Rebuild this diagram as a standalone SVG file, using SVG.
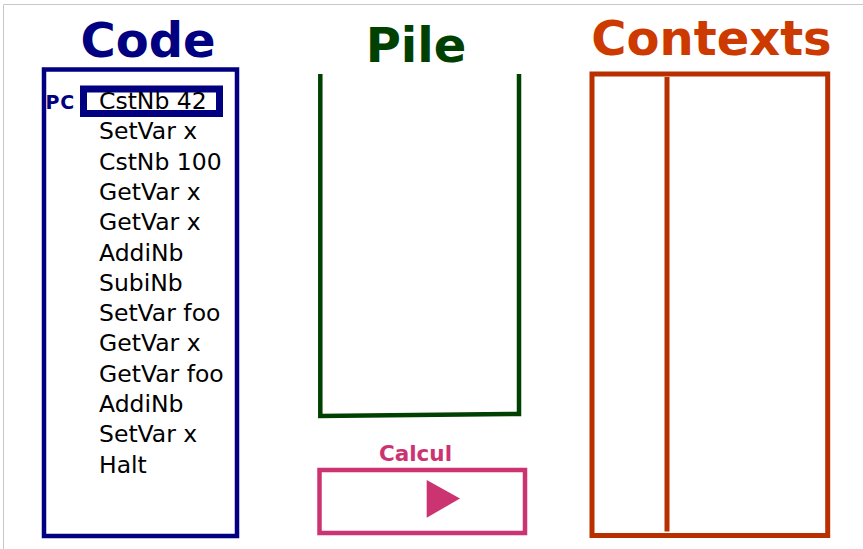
<svg xmlns="http://www.w3.org/2000/svg" width="863" height="549" viewBox="0 0 863 549">
  <style>
    .title { font-family: "DejaVu Sans", sans-serif; font-weight: bold; font-size: 48px; text-anchor: middle; }
    .instr { font-family: "DejaVu Sans", sans-serif; font-size: 23.5px; fill: #000000; }
    .frame { fill: none; }
  </style>
  <rect width="863" height="549" fill="#ffffff"/>
  <!-- page edge -->
  <path d="M3.5,549 V4.5 H863" fill="none" stroke="#c8c8c8" stroke-width="1"/>

  <g id="code">
    <text class="title" x="148" y="57" fill="#000080">Code</text>
    <rect class="frame" x="44" y="69.5" width="193" height="466.5" stroke="#000080" stroke-width="4.5"/>
    <g id="pc">
      <rect class="frame" x="83.5" y="89" width="136" height="24.5" stroke="#000080" stroke-width="7"/>
      <text x="45.5" y="109" font-family="DejaVu Sans, sans-serif" font-weight="bold" font-size="19" letter-spacing="0.8" fill="#000080">PC</text>
    </g>
    <g id="instructions">
      <text class="instr" x="99" y="109">CstNb 42</text>
      <text class="instr" x="99" y="139.3">SetVar x</text>
      <text class="instr" x="99" y="169.6">CstNb 100</text>
      <text class="instr" x="99" y="199.9">GetVar x</text>
      <text class="instr" x="99" y="230.2">GetVar x</text>
      <text class="instr" x="99" y="260.5">AddiNb</text>
      <text class="instr" x="99" y="290.8">SubiNb</text>
      <text class="instr" x="99" y="321.1">SetVar foo</text>
      <text class="instr" x="99" y="351.4">GetVar x</text>
      <text class="instr" x="99" y="381.7">GetVar foo</text>
      <text class="instr" x="99" y="412">AddiNb</text>
      <text class="instr" x="99" y="442.3">SetVar x</text>
      <text class="instr" x="99" y="472.6">Halt</text>
    </g>
  </g>

  <g id="pile">
    <text class="title" x="416" y="61.5" fill="#004000">Pile</text>
    <path d="M320.3,74 V416 L519,414 V74" fill="none" stroke="#004000" stroke-width="4.5"/>
  </g>

  <g id="calcul">
    <text x="415.5" y="461" text-anchor="middle" font-family="DejaVu Sans, sans-serif" font-weight="bold" font-size="21.5" fill="#cc3371">Calcul</text>
    <rect class="frame" x="319.5" y="470" width="205.5" height="63" stroke="#cc3371" stroke-width="4.5"/>
    <polygon points="426.7,480 426.7,517.7 460,498.5" fill="#cc3371"/>
  </g>

  <g id="contexts">
    <text class="title" x="711.5" y="54.5" fill="#cc3a00">Contexts</text>
    <rect class="frame" x="592" y="74" width="235.7" height="461.5" stroke="#b83000" stroke-width="5"/>
    <line x1="667" y1="77" x2="667" y2="531.5" stroke="#b83000" stroke-width="5"/>
  </g>
</svg>
